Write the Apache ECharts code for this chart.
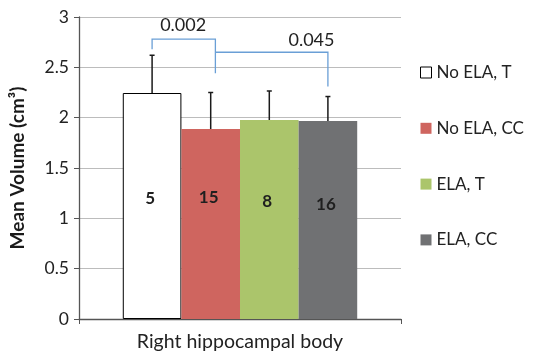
<!DOCTYPE html>
<html><head><meta charset="utf-8">
<script src="https://cdn.jsdelivr.net/npm/echarts@6/dist/echarts.min.js"></script>
<style>html,body{margin:0;padding:0;background:#fff}#c{width:535px;height:355px}</style>
</head><body><div id="c"></div>
<script>
const categories = ['Right hippocampal body'];
const seriesNames = ['No ELA, T', 'No ELA, CC', 'ELA, T', 'ELA, CC'];
const means = [2.245, 1.887, 1.977, 1.967];
const errors = [0.375, 0.363, 0.288, 0.243];
const counts = ['5', '15', '8', '16'];
const countLabelY = [1.20, 1.21, 1.17, 1.14];
const yTicks = { min: 0, max: 3, interval: 0.5 };
// brackets: [fromBarPos, toBarPos, topY, fromEndY, toEndY]
const brackets = [[0, 1.08, 2.78, 2.68, 2.44], [1.08, 3.0, 2.65, 2.65, 2.31]];
const pValues = ['0.002', '0.045'];
const pLabelPos = [[0.53, 2.92], [2.72, 2.77]];

const colors = ['#ffffff', '#cf655f', '#abc56b', '#707173'];
const FONT = 'Lato, "Open Sans", sans-serif';
const CAT_GAP = 0.272;

function barX(api, pos) {
  const band = api.size([1, 0])[0];
  const groupW = band * (1 - CAT_GAP);
  const bw = groupW / 4;
  const c = api.coord([0, 0])[0];
  return c - groupW / 2 + bw * (pos + 0.5);
}

const chart = echarts.init(document.getElementById('c'), null, { renderer: 'canvas' });

const barSeries = seriesNames.map((n, i) => ({
  name: n,
  type: 'bar',
  data: [means[i]],
  barGap: '0%',
  barCategoryGap: (CAT_GAP * 100) + '%',
  itemStyle: i === 0 ? { color: colors[i], borderColor: '#000', borderWidth: 1 } : { color: colors[i] },
  z: 2
}));

const overlay = {
  type: 'custom',
  data: [0],
  z: 5,
  silent: true,
  renderItem: function (params, api) {
    const children = [];
    for (let i = 0; i < means.length; i++) {
      const x = barX(api, i);
      const y0 = api.coord([0, means[i]])[1];
      const y1 = api.coord([0, means[i] + errors[i]])[1];
      children.push({ type: 'line', shape: { x1: x, y1: y0, x2: x, y2: y1 }, style: { stroke: '#1a1a1a', lineWidth: 1.5 } });
      children.push({ type: 'line', shape: { x1: x - 2.5, y1: y1, x2: x + 2.5, y2: y1 }, style: { stroke: '#1a1a1a', lineWidth: 1.5 } });
      const ly = api.coord([0, countLabelY[i]])[1];
      children.push({ type: 'text', x: x - 2, y: ly, style: { text: counts[i], fill: '#1f1f1f', font: 'bold 17px ' + FONT, align: 'center', verticalAlign: 'middle' } });
    }
    brackets.forEach((b, k) => {
      const xa = barX(api, b[0]), xb = barX(api, b[1]);
      const yt = api.coord([0, b[2]])[1];
      const ya = api.coord([0, b[3]])[1];
      const yb = api.coord([0, b[4]])[1];
      children.push({ type: 'polyline', shape: { points: [[xa, ya], [xa, yt], [xb, yt], [xb, yb]] }, style: { stroke: '#6a9fd6', lineWidth: 1.3, fill: null } });
      const p = pLabelPos[k];
      children.push({ type: 'text', x: barX(api, p[0]), y: api.coord([0, p[1]])[1], style: { text: pValues[k], fill: '#222', font: '18px ' + FONT, align: 'center', verticalAlign: 'middle' } });
    });
    return { type: 'group', children: children };
  }
};

chart.setOption({
  animation: false,
  grid: { left: 78, right: 134, top: 17, bottom: 36 },
  legend: {
    orient: 'vertical',
    left: 415,
    top: 59,
    itemGap: 38.8,
    itemWidth: 11,
    itemHeight: 11,
    icon: 'rect',
    textStyle: { fontFamily: FONT, fontSize: 17, color: '#222' },
    data: seriesNames.map((n, i) => ({ name: n, itemStyle: i === 0 ? { color: '#fff', borderColor: '#000', borderWidth: 1 } : { color: colors[i] } }))
  },
  xAxis: {
    type: 'category',
    data: categories,
    axisLine: { lineStyle: { color: '#555', width: 1.3 } },
    axisTick: { show: true, length: 5, lineStyle: { color: '#555' } },
    axisLabel: { fontFamily: FONT, fontSize: 19.5, color: '#222', margin: 13 }
  },
  yAxis: {
    type: 'value',
    min: yTicks.min, max: yTicks.max, interval: yTicks.interval,
    name: 'Mean Volume (cm³)',
    nameLocation: 'middle',
    nameGap: 52,
    nameTextStyle: { fontFamily: FONT, fontSize: 19, fontWeight: 'bold', color: '#1a1a1a' },
    axisLine: { show: true, lineStyle: { color: '#555', width: 1.3 } },
    axisTick: { show: true, length: 5, lineStyle: { color: '#555' } },
    axisLabel: { fontFamily: FONT, fontSize: 17.5, color: '#222', margin: 10 },
    splitLine: { lineStyle: { color: '#bcbcbc', width: 1 } }
  },
  series: barSeries.concat([overlay])
});
</script></body></html>
